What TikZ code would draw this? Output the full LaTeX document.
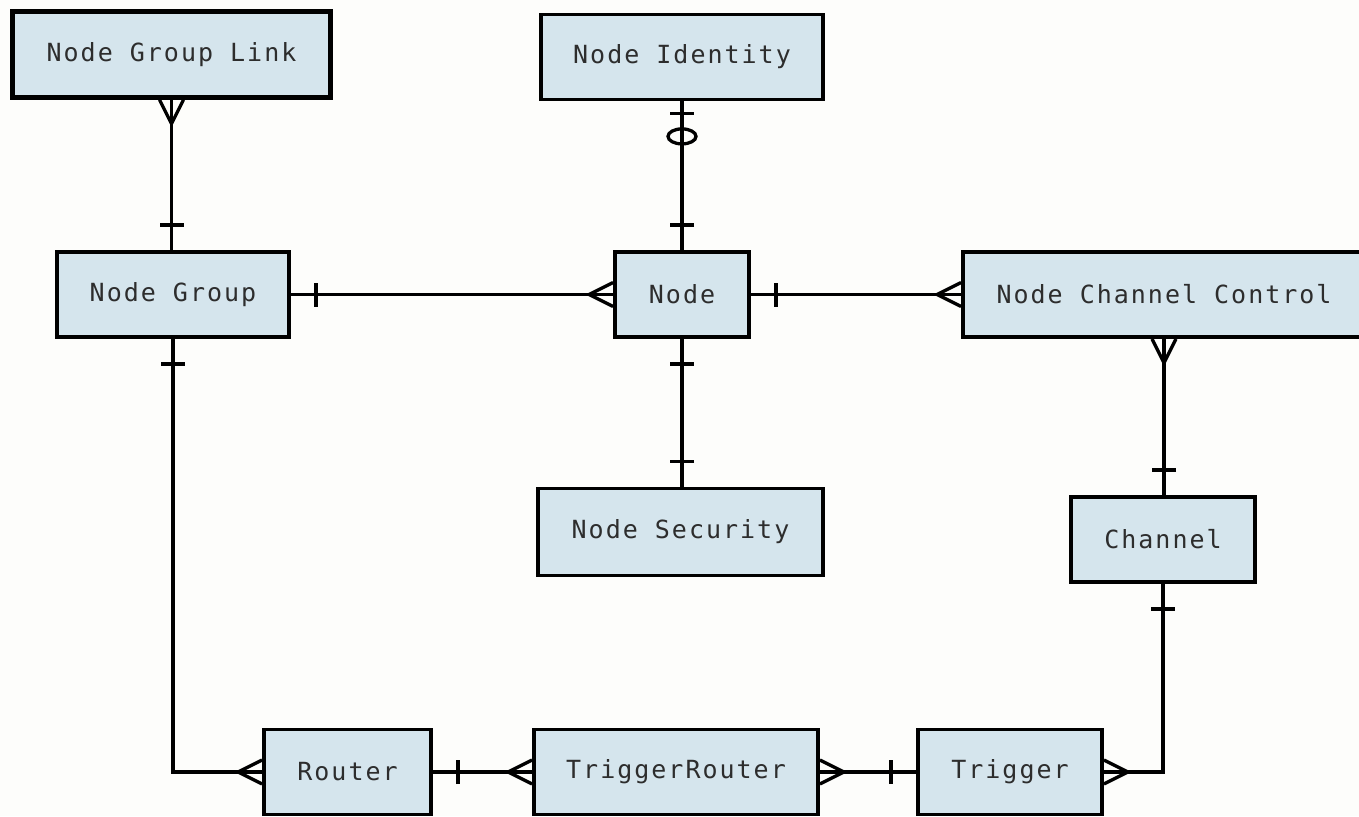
\documentclass[tikz,border=0pt]{standalone}
\usepackage{fontspec}
\newfontfamily\erfont{DejaVu Sans Mono}[LetterSpace=8]
\usetikzlibrary{calc}
\definecolor{boxfill}{RGB}{213,229,237}
\definecolor{txt}{RGB}{45,45,45}
\definecolor{bg}{RGB}{253,253,251}
\begin{document}
\begin{tikzpicture}[x=1pt,y=-1pt,
  ent/.style={draw=black, line width=3.8pt, fill=boxfill, font=\erfont\fontsize{25}{30}\selectfont,
    text=txt, inner sep=0pt, minimum height=85pt},
  conn/.style={line width=3.3pt, black},
  crow/.pic={\draw[conn] (-12,0) -- (0,24) -- (12,0);},
  one/.pic={\draw[conn] (-12,25) -- (12,25);},
  zone/.pic={\draw[conn] (-12,12) -- (12,12);
             \draw[conn] (0,35) ellipse [x radius=14, y radius=7.5];}
  ]
\useasboundingbox (0,0) rectangle (1359,816);
\clip (0,0) rectangle (1359,816);
\fill[bg] (0,0) rectangle (1359,816);

\node[ent, line width=4.6pt, minimum width=318pt, minimum height=86pt] (ngl) at (171.5,54.5) {Node Group Link};
\node[ent, minimum width=282pt] (ni) at (682,57) {Node Identity};
\node[ent, minimum width=232pt] (ng) at (173,294.5) {Node Group};
\node[ent, minimum width=134pt] (node) at (682,294.5) {Node};
\node[ent, minimum width=402pt] (ncc) at (1164,294.5) {Node Channel Control};
\node[ent, minimum width=285pt, minimum height=87pt] (ns) at (680.5,532) {Node Security};
\node[ent, minimum width=184pt] (ch) at (1163,539.5) {Channel};
\node[ent, minimum width=167pt] (router) at (347.5,772) {Router};
\node[ent, minimum width=284pt] (tr) at (676,772) {TriggerRouter};
\node[ent, minimum width=184pt] (trig) at (1010,772) {Trigger};

\draw[conn] (ngl.south) -- (ngl.south |- ng.north);
\draw[conn] (ni.south) -- (node.north);
\draw[conn] (node.south) -- (node.south |- ns.north);
\draw[conn] (ncc.south) -- (ncc.south |- ch.north);
\draw[conn] (ng.east) -- (node.west);
\draw[conn] (node.east) -- (ncc.west);
\draw[conn] (ng.south) |- (router.west);
\draw[conn] (ch.south) |- (trig.east);
\draw[conn] (router.east) -- (tr.west);
\draw[conn] (tr.east) -- (trig.west);

\pic at (ngl.south) {crow};
\pic[rotate=180] at (ngl.south |- ng.north) {one};
\pic at (ni.south) {zone};
\pic[rotate=180] at (node.north) {one};
\pic[rotate=90] at (ng.east) {one};
\pic[rotate=-90] at (node.west) {crow};
\pic[rotate=90] at (node.east) {one};
\pic[rotate=-90] at (ncc.west) {crow};
\pic at (ncc.south) {crow};
\pic[rotate=180] at (ncc.south |- ch.north) {one};
\pic at (node.south) {one};
\pic[rotate=180] at (node.south |- ns.north) {one};
\pic at (ng.south) {one};
\pic[rotate=-90] at (router.west) {crow};
\pic[rotate=90] at (router.east) {one};
\pic[rotate=-90] at (tr.west) {crow};
\pic[rotate=90] at (tr.east) {crow};
\pic[rotate=-90] at (trig.west) {one};
\pic at (ch.south) {one};
\pic[rotate=90] at (trig.east) {crow};
\end{tikzpicture}
\end{document}
